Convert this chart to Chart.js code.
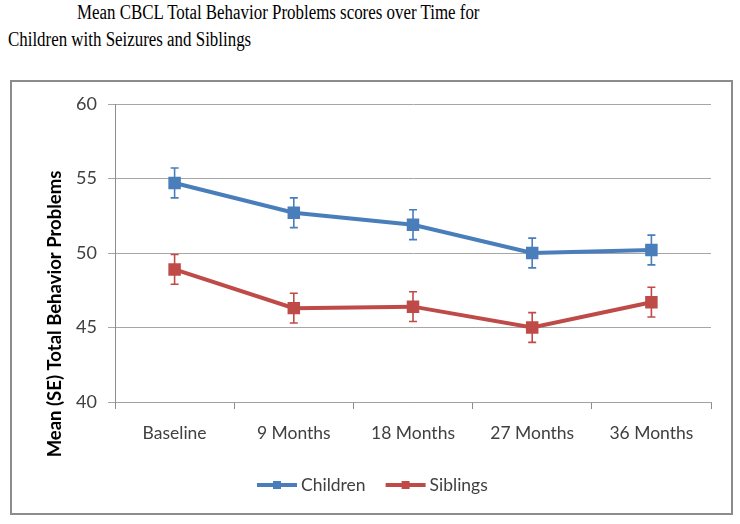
<!DOCTYPE html>
<html>
<head>
<meta charset="utf-8">
<script src="https://cdn.jsdelivr.net/npm/chart.js@4.4.1/dist/chart.umd.min.js"></script>
<style>
  body { margin: 0; background: #fff; width: 740px; height: 524px; overflow: hidden; position: relative; }
  .ttl { position: absolute; font-family: "Liberation Serif", serif; font-size: 20px; color: #000; white-space: nowrap; transform: scaleX(0.845); transform-origin: left top; }
  #box { position: absolute; left: 10px; top: 80px; width: 719px; height: 431px; border: 2px solid #8c8c8c; }
  #c { position: absolute; left: 0; top: 0; }
</style>
</head>
<body>
<div class="ttl" id="t1" style="left:77px; top:1px;">Mean CBCL Total Behavior Problems scores over Time for</div>
<div class="ttl" id="t2" style="left:8px; top:28px;">Children with Seizures and Siblings</div>
<div id="box"></div>
<canvas id="c" width="740" height="524"></canvas>
<script>
const categories = ['Baseline', '9 Months', '18 Months', '27 Months', '36 Months']
const children = [54.7, 52.7, 51.9, 50.0, 50.2]
const childrenSE = [1.0, 1.0, 1.0, 1.0, 1.0]
const siblings = [48.9, 46.3, 46.4, 45.0, 46.7]
const siblingsSE = [1.0, 1.0, 1.0, 1.0, 1.0]
const yTicks = [40, 45, 50, 55, 60]

const blue = '#4a7ebb'
const red = '#be4b48'
const font = 'Lato, "Liberation Sans", sans-serif'

// error bars, drawn through the chart's own scales
const errorBars = {
  id: 'errorBars',
  afterDatasetsDraw(chart) {
    const ctx = chart.ctx
    const x = chart.scales.x, y = chart.scales.y
    chart.data.datasets.forEach(ds => {
      ctx.save()
      ctx.strokeStyle = ds.borderColor
      ctx.lineWidth = 1.6
      ds.data.forEach((v, i) => {
        const px = x.getPixelForValue(i)
        const top = y.getPixelForValue(v + ds.se[i])
        const bot = y.getPixelForValue(v - ds.se[i])
        ctx.beginPath()
        ctx.moveTo(px, top); ctx.lineTo(px, bot)
        ctx.moveTo(px - 4, top); ctx.lineTo(px + 4, top)
        ctx.moveTo(px - 4, bot); ctx.lineTo(px + 4, bot)
        ctx.stroke()
      })
      ctx.restore()
    })
  }
}

// y axis title and legend
const extras = {
  id: 'extras',
  afterDraw(chart) {
    const ctx = chart.ctx
    ctx.save()
    ctx.translate(55, 314)
    ctx.rotate(-Math.PI / 2)
    ctx.font = 'bold 18.5px ' + font
    ctx.fillStyle = '#000'
    ctx.textAlign = 'center'
    ctx.textBaseline = 'middle'
    ctx.fillText('Mean (SE) Total Behavior Problems', 0, 0)
    ctx.restore()

    ctx.save()
    ctx.font = '17.5px ' + font
    ctx.textBaseline = 'middle'
    let lx = 257
    const ly = 485
    chart.data.datasets.forEach(ds => {
      ctx.strokeStyle = ds.borderColor
      ctx.fillStyle = ds.borderColor
      ctx.lineWidth = 4
      ctx.beginPath()
      ctx.moveTo(lx, ly); ctx.lineTo(lx + 40, ly)
      ctx.stroke()
      ctx.fillRect(lx + 16, ly - 4, 8, 8)
      ctx.fillStyle = '#404040'
      ctx.fillText(ds.label, lx + 44, ly)
      lx += 44 + ctx.measureText(ds.label).width + 20
    })
    ctx.restore()
  }
}

const ctx = document.getElementById('c').getContext('2d')
let chart = new Chart(ctx, {
  type: 'line',
  data: {
    labels: categories,
    datasets: [
      {
        label: 'Children',
        data: children,
        se: childrenSE,
        borderColor: blue,
        backgroundColor: blue,
        borderWidth: 4,
        pointStyle: 'rect',
        pointRadius: 6,
        tension: 0
      },
      {
        label: 'Siblings',
        data: siblings,
        se: siblingsSE,
        borderColor: red,
        backgroundColor: red,
        borderWidth: 4,
        pointStyle: 'rect',
        pointRadius: 6,
        tension: 0
      }
    ]
  },
  options: {
    responsive: false,
    animation: false,
    layout: { padding: { left: 0, right: 29, top: 104, bottom: 62 } },
    plugins: { legend: { display: false }, tooltip: { enabled: false } },
    scales: {
      x: {
        offset: true,
        afterFit(s) { s.height = 60 },
        grid: { offset: true, drawOnChartArea: false, drawTicks: true, tickLength: 7, color: '#8c8c8c' },
        border: { display: true, color: '#a0a0a0' },
        ticks: { font: { family: font, size: 17.5 }, color: '#404040', padding: 14, maxRotation: 0 }
      },
      y: {
        min: 40,
        max: 60,
        afterFit(s) { s.width = 115 },
        afterBuildTicks(s) { s.ticks = yTicks.map(v => ({ value: v })) },
        grid: { color: '#a6a6a6', drawTicks: true, tickLength: 7 },
        border: { display: true, color: '#8c8c8c' },
        ticks: { font: { family: font, size: 18 }, color: '#404040', padding: 11 }
      }
    }
  },
  plugins: [errorBars, extras]
})
</script>
</body>
</html>
